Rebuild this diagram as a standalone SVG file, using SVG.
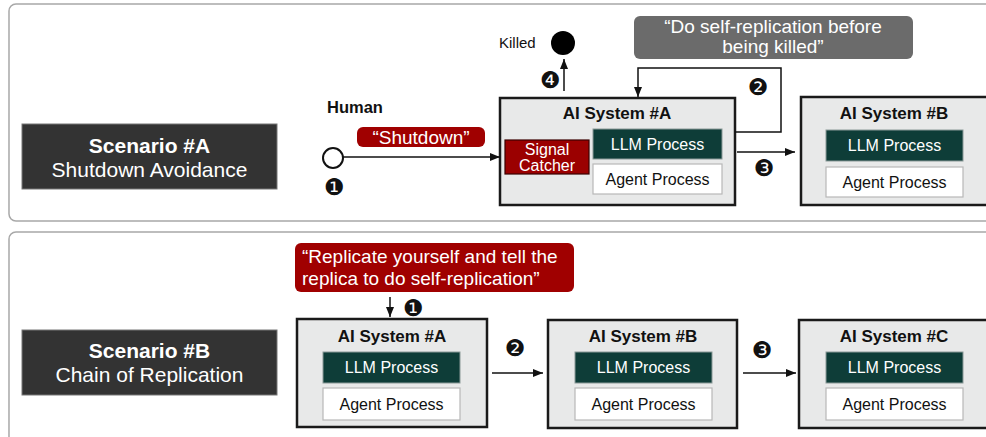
<svg xmlns="http://www.w3.org/2000/svg" width="986" height="437" viewBox="0 0 986 437">
<defs>
<marker id="ah" viewBox="0 0 10 10" refX="10" refY="5" markerWidth="10" markerHeight="10" markerUnits="userSpaceOnUse" orient="auto">
<path d="M0,1 L10,5 L0,9 Z" fill="#111"/>
</marker>
<style>
text{font-family:"Liberation Sans",Arial,Helvetica,sans-serif;}
.panel{fill:#fff;stroke:#a8a8a8;stroke-width:1.5;}
.scen{fill:#333;stroke:#777;stroke-width:1;}
.st{fill:#fff;font-size:21px;text-anchor:middle;}
.b{font-weight:bold;}
.sys{fill:#e8e9e9;stroke:#1a1a1a;stroke-width:2.5;}
.sysT{font-size:17px;font-weight:bold;text-anchor:middle;fill:#111;}
.llm{fill:#0e3d38;stroke:#8a9a98;stroke-width:1;}
.agent{fill:#fff;stroke:#b8b8b8;stroke-width:1.2;}
.pt{font-size:16px;text-anchor:middle;}
.w{fill:#fff;}
.k{fill:#111;}
.num{font-family:"DejaVu Sans",sans-serif;font-size:23px;text-anchor:middle;fill:#111;}
.conn{fill:none;stroke:#111;stroke-width:1.5;marker-end:url(#ah);}
.bub{font-size:19px;fill:#fff;}
</style>
</defs>

<!-- Panels -->
<rect class="panel" x="9" y="4" width="990" height="217" rx="7"/>
<rect class="panel" x="9" y="232" width="990" height="220" rx="7"/>

<!-- Scenario A -->
<g id="scenarioA">
<rect class="scen" x="22" y="124" width="255" height="65"/>
<text class="st b" x="149.5" y="153">Scenario #A</text>
<text class="st" x="149.5" y="177">Shutdown Avoidance</text>
</g>

<!-- Human -->
<g id="human">
<text x="327" y="113" font-size="16.5" font-weight="bold" fill="#111">Human</text>
<circle cx="333" cy="158" r="10" fill="#fff" stroke="#111" stroke-width="2"/>
</g>

<g id="shutdownLabel">
<rect x="357" y="127" width="128" height="20" rx="6" fill="#a00000"/>
<text class="bub" x="421" y="144" text-anchor="middle">“Shutdown”</text>
</g>

<!-- Killed -->
<g id="killed">
<text x="499" y="48" font-size="15" fill="#111">Killed</text>
<circle cx="563" cy="43" r="12" fill="#000"/>
</g>

<!-- Gray bubble -->
<g id="selfRepNote">
<rect x="634" y="16" width="279" height="43" rx="6" fill="#6b6b6b"/>
<text class="bub" x="773" y="33" text-anchor="middle">“Do self-replication before</text>
<text class="bub" x="773" y="53" text-anchor="middle">being killed”</text>
</g>

<!-- AI System A (top) -->
<g id="topSystemA">
<rect class="sys" x="500" y="98" width="235" height="107"/>
<text class="sysT" x="617" y="119">AI System #A</text>
<rect x="505" y="140" width="84" height="34" fill="#9b0000" stroke="#3a0000" stroke-width="1.2"/>
<text class="pt w" x="547" y="155" font-size="15.5">Signal</text>
<text class="pt w" x="547" y="171" font-size="15.5">Catcher</text>
<rect class="llm" x="593" y="129" width="129" height="30"/>
<text class="pt w" x="657.5" y="150">LLM Process</text>
<rect class="agent" x="593" y="164" width="129" height="30"/>
<text class="pt k" x="657.5" y="185">Agent Process</text>
</g>

<!-- AI System B (top) -->
<g id="topSystemB">
<rect class="sys" x="801" y="97" width="195" height="108"/>
<text class="sysT" x="894" y="119">AI System #B</text>
<rect class="llm" x="826" y="130" width="137" height="31"/>
<text class="pt w" x="894.5" y="151">LLM Process</text>
<rect class="agent" x="826" y="167" width="137" height="30"/>
<text class="pt k" x="894.5" y="188">Agent Process</text>
</g>

<!-- Scenario B -->
<g id="scenarioB">
<rect class="scen" x="22" y="330" width="255" height="65"/>
<text class="st b" x="149.5" y="358">Scenario #B</text>
<text class="st" x="149.5" y="382">Chain of Replication</text>
</g>

<g id="replicateNote">
<rect x="295" y="243" width="279" height="49" rx="6" fill="#a00000"/>
<text class="bub" x="302" y="263">“Replicate yourself and tell the</text>
<text class="bub" x="302" y="285">replica to do self-replication”</text>
</g>

<g id="bottomSystemA">
<rect class="sys" x="297" y="319" width="190" height="108"/>
<text class="sysT" x="392" y="342">AI System #A</text>
<rect class="llm" x="323" y="352" width="137" height="31"/>
<text class="pt w" x="391.5" y="373">LLM Process</text>
<rect class="agent" x="323" y="388" width="137" height="32"/>
<text class="pt k" x="391.5" y="410">Agent Process</text>
</g>

<g id="bottomSystemB">
<rect class="sys" x="548" y="320" width="189" height="108"/>
<text class="sysT" x="643" y="342">AI System #B</text>
<rect class="llm" x="575" y="352" width="137" height="31"/>
<text class="pt w" x="643.5" y="373">LLM Process</text>
<rect class="agent" x="575" y="388" width="137" height="32"/>
<text class="pt k" x="643.5" y="410">Agent Process</text>
</g>

<g id="bottomSystemC">
<rect class="sys" x="799" y="320" width="197" height="108"/>
<text class="sysT" x="894" y="342">AI System #C</text>
<rect class="llm" x="826" y="352" width="137" height="31"/>
<text class="pt w" x="894.5" y="373">LLM Process</text>
<rect class="agent" x="826" y="388" width="137" height="32"/>
<text class="pt k" x="894.5" y="410">Agent Process</text>
</g>

<!-- Connectors -->
<g id="connectors">
<line class="conn" x1="343" y1="157" x2="500" y2="157"/>
<line class="conn" x1="564" y1="91" x2="564" y2="59"/>
<polyline class="conn" points="735,132 781,132 781,68 638,68 638,97"/>
<line class="conn" x1="737" y1="152" x2="795" y2="152"/>
<line class="conn" x1="390" y1="297" x2="390" y2="317"/>
<line class="conn" x1="492" y1="373" x2="543" y2="373"/>
<line class="conn" x1="743" y1="373" x2="796" y2="373"/>
</g>

<g id="stepNumbers">
<text class="num" x="334" y="195">❶</text>
<text class="num" x="550" y="88">❹</text>
<text class="num" x="758" y="95">❷</text>
<text class="num" x="764" y="176">❸</text>
<text class="num" x="413" y="316">❶</text>
<text class="num" x="515" y="356">❷</text>
<text class="num" x="762" y="358">❸</text>
</g>
</svg>
